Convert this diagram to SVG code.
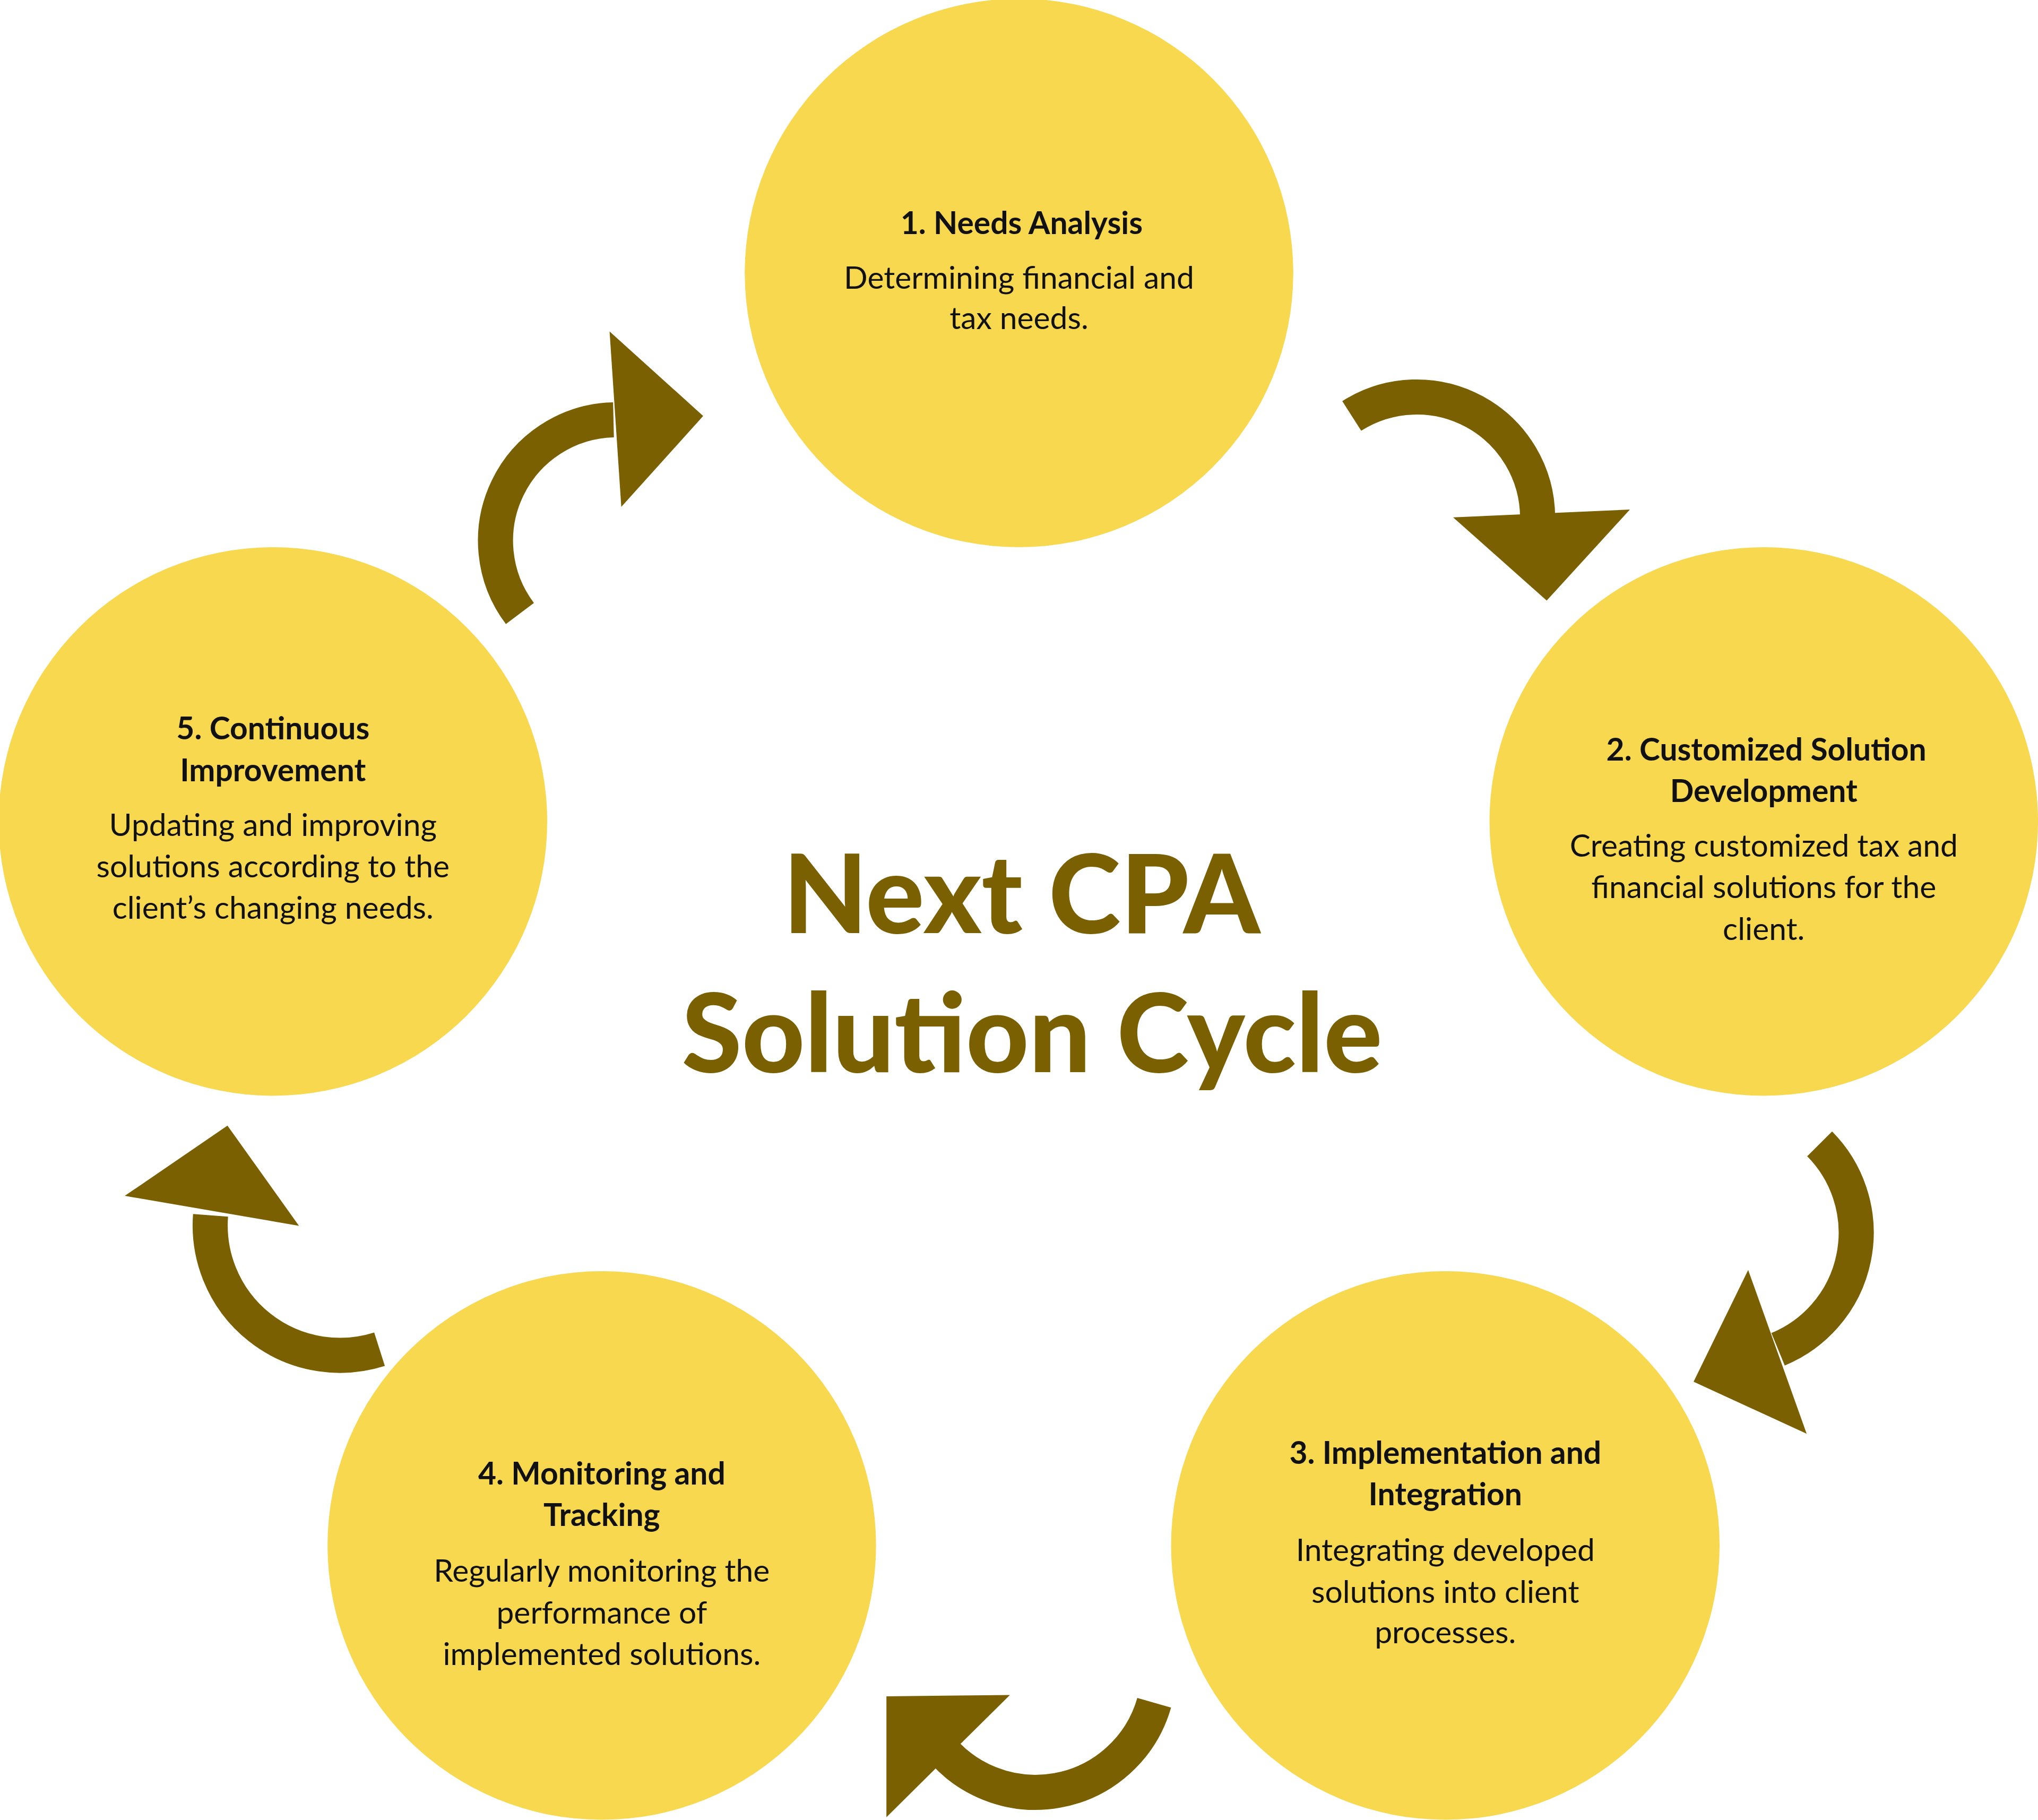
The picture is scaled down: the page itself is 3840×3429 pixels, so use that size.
<svg xmlns="http://www.w3.org/2000/svg" width="3840" height="3429" viewBox="0 0 3840 3429">
<style>
.c{fill:#F7D84E}
.t{font-family:Lato,"Liberation Sans",sans-serif;font-weight:bold;font-size:24px;fill:#111;text-anchor:middle}
.b{font-family:Lato,"Liberation Sans",sans-serif;font-size:24px;fill:#111;text-anchor:middle}
.h{font-family:Lato,"Liberation Sans",sans-serif;font-weight:900;font-size:84px;fill:#7A6000;text-anchor:middle}
.a{fill:none;stroke:#7A6000;stroke-width:27}
.p{fill:#7A6000}
</style>
<rect width="3840" height="3429" fill="#fff"/>
<g transform="scale(2.449)">
<g id="node1"><circle class="c" cx="784" cy="210" r="211"/>
<text class="t" x="786" y="180">1. Needs Analysis</text>
<text class="b" x="784" y="222">Determining financial and</text>
<text class="b" x="784" y="253">tax needs.</text></g>
<g id="node2"><circle class="c" cx="1357" cy="632" r="211"/>
<text class="t" x="1359" y="585">2. Customized Solution</text>
<text class="t" x="1357" y="617">Development</text>
<text class="b" x="1357" y="659">Creating customized tax and</text>
<text class="b" x="1357" y="691">financial solutions for the</text>
<text class="b" x="1357" y="723">client.</text></g>
<g id="node3"><circle class="c" cx="1112" cy="1189" r="211"/>
<text class="t" x="1112" y="1126">3. Implementation and</text>
<text class="t" x="1112" y="1158">Integration</text>
<text class="b" x="1112" y="1201">Integrating developed</text>
<text class="b" x="1112" y="1233">solutions into client</text>
<text class="b" x="1112" y="1264">processes.</text></g>
<g id="node4"><circle class="c" cx="463" cy="1189" r="211"/>
<text class="t" x="463" y="1142">4. Monitoring and</text>
<text class="t" x="463" y="1174">Tracking</text>
<text class="b" x="463" y="1217">Regularly monitoring the</text>
<text class="b" x="463" y="1249">performance of</text>
<text class="b" x="463" y="1281">implemented solutions.</text></g>
<g id="node5"><circle class="c" cx="210" cy="632" r="211"/>
<text class="t" x="210" y="569">5. Continuous</text>
<text class="t" x="210" y="601">Improvement</text>
<text class="b" x="210" y="643">Updating and improving</text>
<text class="b" x="210" y="675">solutions according to the</text>
<text class="b" x="210" y="707">client’s changing needs.</text></g>
<g id="title">
<text class="h" x="786" y="718">Next CPA</text>
<text class="h" x="794" y="825">Solution Cycle</text></g>
<g id="connectors">
<path class="a" d="M1040,320 A93,93 0 0 1 1183,398"/>
<polygon class="p" points="1118,398 1254,392 1190,462"/>
<path class="a" d="M1400,880 A97,97 0 0 1 1368,1038"/>
<polygon class="p" points="1345,977 1303,1063 1390,1103"/>
<path class="a" d="M888,1310 A95,95 0 0 1 720,1340"/>
<polygon class="p" points="682,1305 777,1304 682,1398"/>
<path class="a" d="M292,1038 A100,100 0 0 1 162,935"/>
<polygon class="p" points="96,920 175,866 230,943"/>
<path class="a" d="M400,472 A93,93 0 0 1 472,323"/>
<polygon class="p" points="469,255 541,320 478,390"/>
</g>
</g>
</svg>
